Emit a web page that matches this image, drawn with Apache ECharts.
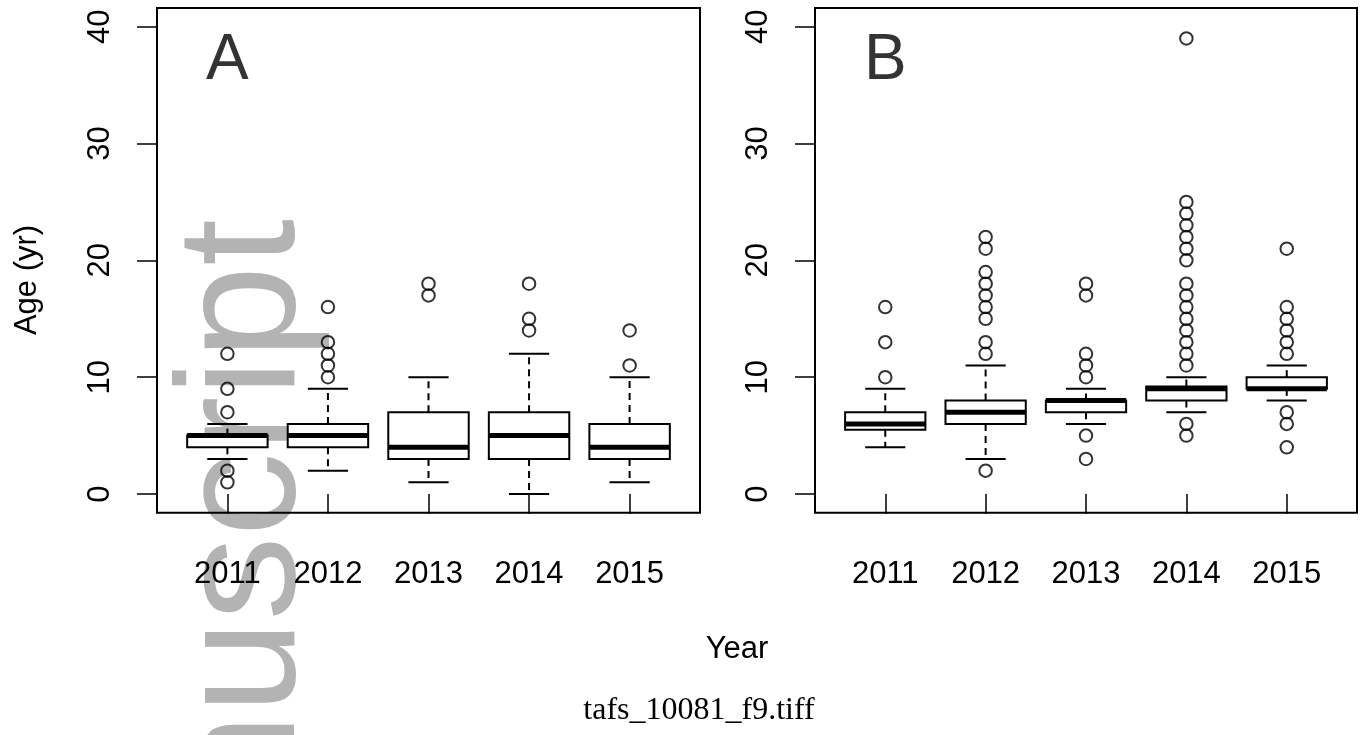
<!DOCTYPE html>
<html>
<head>
<meta charset="utf-8">
<script src="https://cdn.jsdelivr.net/npm/echarts@6/dist/echarts.min.js"></script>
<style>
  html, body { margin: 0; padding: 0; background: #fff; }
  #chart { width: 1361px; height: 735px; }
</style>
</head>
<body>
<div id="chart"></div>
<script>
// Categories and y tick values
const years = ['2011', '2012', '2013', '2014', '2015'];
const yTicks = [0, 10, 20, 30, 40];

// Box statistics per year: [lower whisker, Q1, median, Q3, upper whisker]
const statsA = [
  [3, 4, 5, 5, 6],
  [2, 4, 5, 6, 9],
  [1, 3, 4, 7, 10],
  [0, 3, 5, 7, 12],
  [1, 3, 4, 6, 10]
];
const outliersA = [
  [12, 9, 7, 2, 1],
  [16, 13, 12, 11, 10],
  [18, 17],
  [18, 15, 14],
  [14, 11]
];

const statsB = [
  [4, 5.5, 6, 7, 9],
  [3, 6, 7, 8, 11],
  [6, 7, 8, 8, 9],
  [7, 8, 9, 9.2, 10],
  [8, 9, 9, 10, 11]
];
const outliersB = [
  [10, 13, 16],
  [2, 12, 13, 15, 16, 17, 18, 19, 21, 22],
  [3, 5, 10, 11, 12, 17, 18],
  [5, 6, 11, 12, 13, 14, 15, 16, 17, 18, 20, 21, 22, 23, 24, 25, 39],
  [4, 6, 7, 12, 13, 14, 15, 16, 21]
];

const panelLetters = ['A', 'B'];
const panelStats = [statsA, statsB];
const panelOutliers = [outliersA, outliersB];

// Text styling
const SANS = 'Liberation Sans, Arial, sans-serif';
const labelSize = 31;

// Plot frames (left/right offsets in px)
const frames = [
  { left: 157, right: 1361 - 700 },
  { left: 815, right: 1361 - 1357 }
];
const frameTop = 8;
const frameBottom = 735 - 512.7;

const grids = frames.map(f => ({
  left: f.left, right: f.right, top: frameTop, bottom: frameBottom,
  show: true, borderColor: '#000', borderWidth: 2, backgroundColor: 'transparent'
}));

const xAxes = frames.map((f, i) => ({
  type: 'value', gridIndex: i, min: 0.3, max: 5.7,
  axisLine: { show: false },
  splitLine: { show: false },
  axisTick: { show: true, customValues: [1, 2, 3, 4, 5], length: 20, lineStyle: { color: '#000', width: 1.5 } },
  axisLabel: {
    customValues: [1, 2, 3, 4, 5],
    formatter: v => years[Math.round(v) - 1],
    fontFamily: SANS, fontSize: labelSize, color: '#000',
    margin: 62, verticalAlign: 'middle', align: 'center'
  }
}));

const yAxes = frames.map((f, i) => ({
  type: 'value', gridIndex: i, min: -1.6, max: 41.6,
  axisLine: { show: false },
  splitLine: { show: false },
  axisTick: { show: true, customValues: yTicks, length: 20, lineStyle: { color: '#000', width: 1.5 } },
  axisLabel: {
    customValues: yTicks,
    rotate: 90,
    fontFamily: SANS, fontSize: labelSize, color: '#000',
    margin: 57, align: 'center', verticalAlign: 'middle'
  }
}));

// Box-and-whisker glyph drawn through the axis scales
function renderBox(params, api) {
  const x = api.value(0);
  const lo = api.value(1), q1 = api.value(2), med = api.value(3), q3 = api.value(4), hi = api.value(5);
  const halfBox = api.size([0.4, 0])[0];
  const halfStaple = api.size([0.2, 0])[0];
  const pLo = api.coord([x, lo]);
  const pQ1 = api.coord([x, q1]);
  const pMed = api.coord([x, med]);
  const pQ3 = api.coord([x, q3]);
  const pHi = api.coord([x, hi]);
  const cx = pMed[0];
  const thin = { stroke: '#000', lineWidth: 2, fill: null };
  const dashed = { stroke: '#000', lineWidth: 2, lineDash: [7, 5], fill: null };
  return {
    type: 'group',
    children: [
      { type: 'line', shape: { x1: cx, y1: pQ3[1], x2: cx, y2: pHi[1] }, style: dashed },
      { type: 'line', shape: { x1: cx, y1: pQ1[1], x2: cx, y2: pLo[1] }, style: dashed },
      { type: 'line', shape: { x1: cx - halfStaple, y1: pHi[1], x2: cx + halfStaple, y2: pHi[1] }, style: thin },
      { type: 'line', shape: { x1: cx - halfStaple, y1: pLo[1], x2: cx + halfStaple, y2: pLo[1] }, style: thin },
      { type: 'rect', shape: { x: cx - halfBox, y: pQ3[1], width: 2 * halfBox, height: pQ1[1] - pQ3[1] },
        style: { stroke: '#000', lineWidth: 2, fill: '#fff' } },
      { type: 'line', shape: { x1: cx - halfBox, y1: pMed[1], x2: cx + halfBox, y2: pMed[1] },
        style: { stroke: '#000', lineWidth: 5, fill: null } }
    ]
  };
}

const series = [];
panelStats.forEach((stats, i) => {
  series.push({
    type: 'custom',
    xAxisIndex: i, yAxisIndex: i,
    renderItem: renderBox,
    encode: { x: 0, y: [1, 2, 3, 4, 5] },
    data: stats.map((s, k) => [k + 1].concat(s)),
    z: 3
  });
  const pts = [];
  panelOutliers[i].forEach((vals, k) => vals.forEach(v => pts.push([k + 1, v])));
  series.push({
    type: 'scatter',
    xAxisIndex: i, yAxisIndex: i,
    symbol: 'circle', symbolSize: 12.5,
    itemStyle: { color: 'rgba(0,0,0,0)', borderColor: '#000', borderWidth: 2 },
    data: pts,
    z: 4
  });
  // Panel letter placed in data space
  series.push({
    type: 'scatter',
    xAxisIndex: i, yAxisIndex: i,
    symbolSize: 0,
    data: [[1, 37]],
    label: {
      show: true, position: 'inside', formatter: panelLetters[i],
      fontFamily: SANS, fontSize: 64, color: '#000'
    },
    z: 5
  });
});

const option = {
  animation: false,
  backgroundColor: '#fff',
  grid: grids,
  xAxis: xAxes,
  yAxis: yAxes,
  series: series,
  graphic: [
    {
      type: 'text', z: -10,
      x: 248, y: 219, rotation: Math.PI / 2,
      style: {
        text: 'manuscript', fill: '#b3b3b3',
        font: '168px ' + SANS, align: 'right', verticalAlign: 'middle'
      }
    },
    {
      type: 'text', z: 10,
      x: 27, y: 280, rotation: Math.PI / 2,
      style: { text: 'Age (yr)', fill: '#000', font: labelSize + 'px ' + SANS, align: 'center', verticalAlign: 'middle' }
    },
    {
      type: 'text', z: 10,
      x: 737, y: 649,
      style: { text: 'Year', fill: '#000', font: labelSize + 'px ' + SANS, align: 'center', verticalAlign: 'middle' }
    },
    {
      type: 'text', z: 10,
      x: 699, y: 711,
      style: { text: 'tafs_10081_f9.tiff', fill: '#000', font: '32px Liberation Serif, serif', align: 'center', verticalAlign: 'middle' }
    }
  ]
};

const chart = echarts.init(document.getElementById('chart'), null, { renderer: 'canvas' });
chart.setOption(option);
</script>
</body>
</html>
